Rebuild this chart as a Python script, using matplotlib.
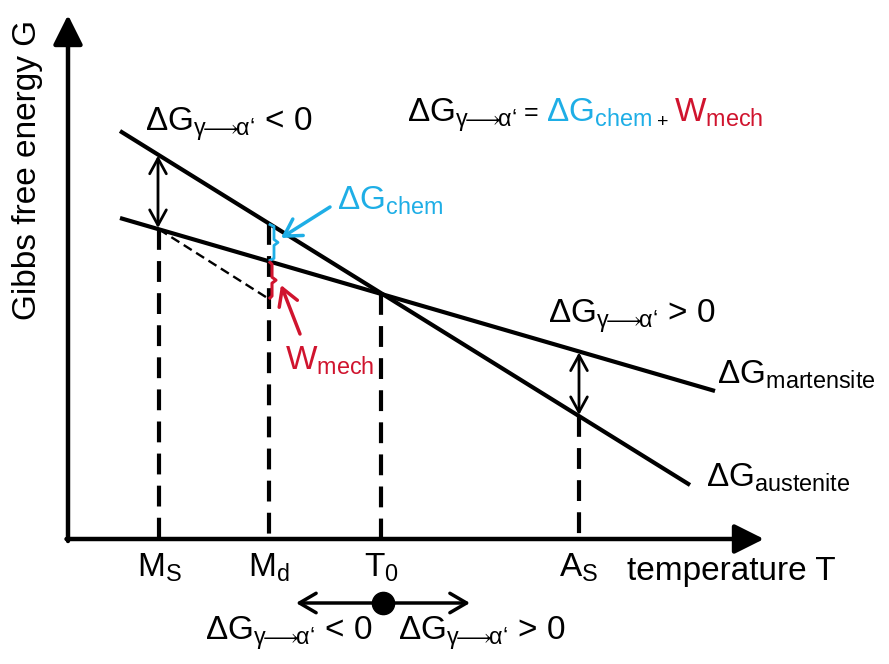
import numpy as np
import matplotlib
matplotlib.use('Agg')
import matplotlib.pyplot as plt

plt.rcParams['font.family'] = ['Liberation Sans', 'DejaVu Sans']
plt.rcParams['mathtext.fontset'] = 'custom'
plt.rcParams['mathtext.rm'] = 'Liberation Sans'
plt.rcParams['mathtext.it'] = 'Liberation Sans'
plt.rcParams['mathtext.sf'] = 'Liberation Sans'
plt.rcParams['mathtext.default'] = 'rm'

# schematic free energy lines (temperature, G) in drawing units, G grows downwards
austenite_T = [120, 690]
austenite_G = [131, 485]
martensite_T = [120, 715]
martensite_G = [218, 391]

# characteristic temperatures
temp_labels = ['M$_S$', 'M$_d$', 'T$_0$', 'A$_S$']
temp_pos = [159, 269, 381, 579]

BLUE = '#1EAEE6'
RED = '#D0142E'
SUB = r'$_{\mathrm{γ\!⟶\!α‘}}$'
FS = 24

fig = plt.figure(figsize=(8.89, 6.64), dpi=100)
ax = fig.add_axes([0, 0, 1, 1])
ax.set_xlim(0, 889)
ax.set_ylim(664, 0)
ax.axis('off')


def g_aus(t):
    return np.interp(t, austenite_T, austenite_G)


def g_mart(t):
    return np.interp(t, martensite_T, martensite_G)


def arrow(p0, p1, style, lw=2.2, color='k', ms=20):
    ax.annotate('', xy=p1, xytext=p0,
                arrowprops=dict(arrowstyle=style, lw=lw, color=color,
                                mutation_scale=ms, shrinkA=0, shrinkB=0))


# axes
arrow((68, 541), (68, 15), '-|>,head_length=0.9,head_width=0.45', lw=3.2)
arrow((66.5, 539), (764, 539), '-|>,head_length=0.9,head_width=0.45', lw=3.2)

# free energy lines
ax.plot(austenite_T, austenite_G, color='k', lw=3, solid_capstyle='butt')
ax.plot(martensite_T, martensite_G, color='k', lw=3, solid_capstyle='butt')

# dashed drops to temperature axis
ms, md, t0, a_s = temp_pos
tops = [g_mart(ms), g_aus(md), g_mart(t0), g_aus(a_s)]
for t, top in zip(temp_pos, tops):
    ax.plot([t, t], [top, 539], color='k', lw=3, dashes=(5, 2.7))

# double arrows for driving force
hd = '<->,head_length=0.55,head_width=0.3'
arrow((ms - 1, g_aus(ms - 1) + 1), (ms - 1, g_mart(ms - 1) - 1), hd, lw=2)
arrow((a_s, g_mart(a_s) + 1), (a_s, g_aus(a_s) - 1), hd, lw=2)

# thin dashed line from Ms to Md with W_mech shift
w_bottom = 299
ax.plot([ms, md], [g_mart(ms), w_bottom], color='k', lw=1.7, dashes=(4, 2.2))

# blue brace (chemical part) and red segment (mechanical work)
ya, ym = g_aus(md), g_mart(md)
mid = (ya + ym) / 2
ax.plot([md + 1, md + 5, md + 5, md + 9, md + 5, md + 5, md + 1],
        [ya + 1, ya + 3, mid - 3, mid, mid + 3, ym - 3, ym - 1],
        color=BLUE, lw=2)
mid2 = (ym + w_bottom) / 2
ax.plot([md + 1, md + 3, md + 3, md + 7, md + 3, md + 3, md + 1],
        [ym + 1, ym + 3, mid2 - 3, mid2, mid2 + 3, w_bottom - 3, w_bottom - 1],
        color=RED, lw=2.2)

# pointer arrows with open heads
ptr = '->,head_length=0.6,head_width=0.35'
arrow((330, 207), (281, 238), ptr, lw=2.5, color=BLUE)
arrow((300, 334), (281, 285), ptr, lw=2.5, color=RED)

# labels
ax.text(28, 170, 'Gibbs free energy G', rotation=90, fontsize=FS,
        ha='center', va='center')
ax.text(627, 580, 'temperature T', fontsize=FS, ha='left', va='baseline')
for lab, t in zip(temp_labels, temp_pos):
    ax.text(t, 577, lab, fontsize=FS, ha='center', va='baseline')

ax.text(145, 131, 'ΔG' + SUB + ' < 0', fontsize=FS, va='baseline')
ax.text(548, 323, 'ΔG' + SUB + ' > 0', fontsize=FS, va='baseline')
ax.text(717, 384, r'ΔG$_{\mathrm{martensite}}$', fontsize=FS, va='baseline')
ax.text(706, 487, r'ΔG$_{\mathrm{austenite}}$', fontsize=FS, va='baseline')
ax.text(337, 210, r'ΔG$_{\mathrm{chem}}$', fontsize=FS, va='baseline', color=BLUE)
ax.text(285, 370, r'W$_{\mathrm{mech}}$', fontsize=FS, va='baseline', color=RED)

# equation, pieces chained left to right
renderer = fig.canvas.get_renderer()
x = 407
parts = [('ΔG' + SUB, 'k', FS, 0, 7),
         ('=', 'k', 18, -2, 8),
         (r'ΔG$_{\mathrm{chem}}$', BLUE, FS, 0, 5),
         ('+', 'k', 14, 5, 5),
         (r'W$_{\mathrm{mech}}$', RED, FS, 0, 0)]
for s, c, fs, dy, gap in parts:
    t = ax.text(x, 122 + dy, s, fontsize=fs, color=c, va='baseline')
    bb = t.get_window_extent(renderer)
    x = ax.transData.inverted().transform((bb.x1, bb.y0))[0] + gap

# T0 sign indicator
arrow((t0 + 2, 603), (296, 603), ptr, lw=2.5)
arrow((t0 - 2, 603), (470, 603), ptr, lw=2.5)
ax.plot([t0 + 2], [603], 'o', color='k', ms=16)
ax.text(205, 640, 'ΔG' + SUB + ' < 0', fontsize=FS, va='baseline')
ax.text(398, 640, 'ΔG' + SUB + ' > 0', fontsize=FS, va='baseline')

fig.savefig('out.png', dpi=100)
